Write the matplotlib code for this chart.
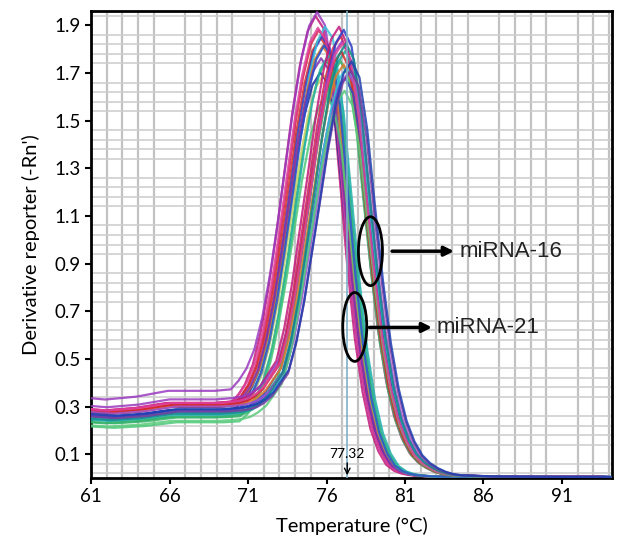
import numpy as np
import matplotlib.pyplot as plt
from matplotlib.patches import Ellipse
from matplotlib.ticker import FixedLocator

# melt curve data
# temperature grid (degC)
temps = [60, 62, 64, 66, 68, 69, 70, 70.5, 71, 71.5, 72, 72.5, 73, 73.5, 74, 74.5,
         75, 75.5, 76, 76.5, 77, 77.5, 78, 78.5, 79, 79.5, 80, 80.5, 81, 81.5, 82,
         82.5, 83, 83.5, 84, 86, 90, 93.5]
# background (non-specific) part of the signal
base = [0.28, 0.27, 0.28, 0.30, 0.30, 0.30, 0.305, 0.31, 0.31, 0.30, 0.30, 0.29,
        0.28, 0.27, 0.25, 0.23, 0.21, 0.19, 0.17, 0.15, 0.13, 0.11, 0.09, 0.07,
        0.05, 0.04, 0.03, 0.02, 0.015, 0.01, 0.008, 0.007, 0.006, 0.006, 0.006,
        0.006, 0.005, 0.005]
# melt peak, miRNA-21 (Tm ~75.5)
peak_21 = [0, 0, 0, 0, 0, 0, 0, 0.03, 0.08, 0.17, 0.30, 0.49, 0.72, 0.97, 1.23,
           1.45, 1.61, 1.69, 1.66, 1.47, 1.12, 0.77, 0.48, 0.28, 0.15, 0.07, 0.025,
           0.01, 0.003, 0.002, 0.001, 0, 0, 0, 0, 0, 0, 0]
# melt peak, miRNA-16 (Tm ~77.0)
peak_16 = [0, 0, 0, 0, 0, 0, 0, 0, 0.01, 0.04, 0.07, 0.13, 0.19, 0.33, 0.53, 0.77,
           1.01, 1.26, 1.47, 1.62, 1.69, 1.64, 1.43, 1.11, 0.81, 0.55, 0.36, 0.23,
           0.145, 0.09, 0.057, 0.036, 0.021, 0.011, 0.006, 0.001, 0, 0]

# per-well: temperature shift, peak scale, background scale, colour
shift_21 = [-0.2, -0.1, 0.0, 0.1, 0.2, 0.4, 0.3, 0.5, 0.1, 0.3, 0.25, -0.05, 0.15, 0.6, 0.45, 0.35]
scale_21 = [1.035, 1.02, 1.0, 0.98, 0.99, 1.02, 0.97, 0.94, 0.9, 0.9, 0.96, 1.0, 0.93, 0.95, 0.86, 0.97]
bg_21 = [1.0, 1.22, 1.0, 1.02, 0.95, 0.9, 0.92, 0.85, 0.95, 0.9, 1.0, 1.05, 1.0, 0.88, 0.78, 0.93]
col_21 = ['#c2187a', '#9a3ac0', '#d6204e', '#d42a2a', '#2a3cc8', '#38c0d8', '#1aa89a',
          '#36b36a', '#1f2f9a', '#c8d060', '#e07a2a', '#e0409a', '#8030b0', '#20b0a8',
          '#4cc878', '#3050d0']

shift_16 = [-0.2, -0.1, 0.1, 0.0, -0.1, 0.2, 0.1, -0.05, 0.2, 0.3, 0.4, 0.15, 0.05, 0.25, 0.55, 0.6]
scale_16 = [1.04, 1.02, 1.04, 1.0, 0.97, 0.99, 0.95, 0.98, 0.92, 0.95, 0.93, 0.9, 1.0, 1.01, 0.94, 0.96]
bg_16 = [1.05, 1.0, 0.95, 1.1, 0.85, 0.92, 1.0, 1.02, 0.95, 0.9, 1.0, 0.8, 1.05, 0.9, 0.93, 0.97]
col_16 = ['#c2187a', '#d6204e', '#2a3cc8', '#9a3ac0', '#36b36a', '#1aa89a', '#e07a2a',
          '#d42a2a', '#3a48c0', '#38c0d8', '#a050d0', '#5ccc7c', '#e0409a', '#148a8a',
          '#7a3aa0', '#2040b0']

tm_marker = 77.32

plt.rcParams['font.family'] = ['Lato', 'DejaVu Sans']
fig = plt.figure(figsize=(6.24, 5.38), dpi=100)
ax = fig.add_axes([0.146, 0.1115, 0.835, 0.868])

t = np.array(temps)
b = np.array(base)
for sh, sc, bg, c in zip(shift_21, scale_21, bg_21, col_21):
    ax.plot(t + sh, b * bg + np.array(peak_21) * sc, color=c, lw=1.6, alpha=0.85, zorder=3)
for sh, sc, bg, c in zip(shift_16, scale_16, bg_16, col_16):
    ax.plot(t + sh, b * bg + np.array(peak_16) * sc, color=c, lw=1.6, alpha=0.85, zorder=3)

# Tm marker
ax.axvline(tm_marker, color='#7fb0c8', lw=1.2, zorder=4)
ax.annotate('', xy=(tm_marker, 0.0), xytext=(tm_marker, 0.075),
            arrowprops=dict(arrowstyle='->', color='black', lw=1), zorder=5)
ax.text(tm_marker, 0.1, '77.32', ha='center', va='center', fontsize=10, zorder=5)

# annotations
ax.add_patch(Ellipse((78.8, 0.952), 1.53, 0.289, fill=False, ec='black', lw=2, zorder=6))
ax.add_patch(Ellipse((77.8, 0.634), 1.53, 0.289, fill=False, ec='black', lw=2, zorder=6))
ax.annotate('', xy=(84.3, 0.952), xytext=(80.0, 0.952),
            arrowprops=dict(arrowstyle='-|>', color='black', lw=2.5, mutation_scale=14), zorder=6)
ax.annotate('', xy=(82.9, 0.632), xytext=(78.56, 0.632),
            arrowprops=dict(arrowstyle='-|>', color='black', lw=2.5, mutation_scale=14), zorder=6)
ax.text(84.45, 0.952, 'miRNA-16', fontsize=16, family=['Liberation Sans'], va='center', color='#222222')
ax.text(83.0, 0.632, 'miRNA-21', fontsize=16, family=['Liberation Sans'], va='center', color='#222222')

ax.set_xlim(61, 94.2)
ax.set_ylim(0, 1.96)
ax.set_xticks([61, 66, 71, 76, 81, 86, 91])
ax.set_yticks([0.1, 0.3, 0.5, 0.7, 0.9, 1.1, 1.3, 1.5, 1.7, 1.9])
ax.set_yticklabels(['0.1', '0.3', '0.5', '0.7', '0.9', '1.1', '1.3', '1.5', '1.7', '1.9'])
ax.xaxis.set_minor_locator(FixedLocator(np.arange(61, 95, 1)))
ax.yaxis.set_minor_locator(FixedLocator(np.arange(0.02, 1.96, 0.04)))
ax.grid(which='minor', axis='x', color='#c2c2c2', lw=1.6, zorder=0)
ax.grid(which='minor', axis='y', color='#cfcfcf', lw=1.2, zorder=0)
ax.set_axisbelow(True)
ax.tick_params(which='minor', length=0)
ax.tick_params(which='major', direction='out', length=4, width=1.5, labelsize=13.5, color='black')
for s in ax.spines.values():
    s.set_linewidth(2)

ax.set_xlabel('Temperature (°C)', fontsize=14.5, labelpad=8)
ax.set_ylabel("Derivative reporter (-Rn')", fontsize=14.5, labelpad=10)

plt.savefig('out.png', dpi=100)
